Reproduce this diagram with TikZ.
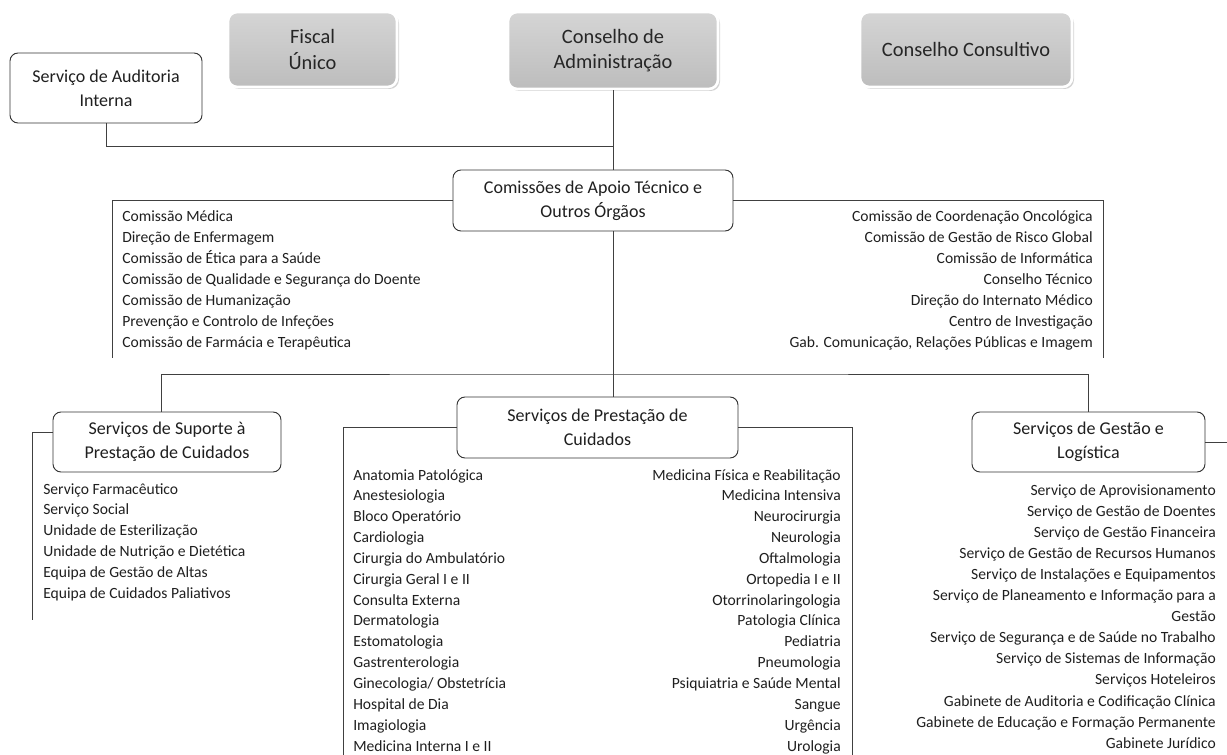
\documentclass[tikz,border=0pt]{standalone}
\usepackage{fontspec}
\setmainfont{Carlito}
\usetikzlibrary{shadows}

\tikzset{
  board/.style={rounded corners=7pt, draw=white, line width=2pt,
    top color=gray!33, bottom color=gray!52,
    drop shadow={opacity=0.35, shadow xshift=1.5pt, shadow yshift=-1.5pt},
    font=\fontsize{15.3}{19}\selectfont, text=black!85, align=center},
  unit/.style={rounded corners=6pt, draw=black!80, line width=0.7pt, fill=white,
    font=\fontsize{13.5}{18}\selectfont, text=black!88, align=center},
  item/.style={font=\fontsize{11.7}{14}\selectfont, inner sep=0pt, text=black!88},
  link/.style={draw=black!75, line width=0.75pt},
}

\begin{document}
\begin{tikzpicture}[x=0.75pt, y=-0.75pt]
    \useasboundingbox (0,0) rectangle (1227,755);

    % top level
    \node[board, minimum width=126.75pt, minimum height=56.25pt] at (312.5,49.5)(fiscal){Fiscal\\Único};
    \node[board, minimum width=157.5pt, minimum height=57.75pt] at (613,50.5)(cadm){Conselho de\\Administração};
    \node[board, minimum width=159pt, minimum height=56.25pt] at (966,49.5)(ccons){Conselho Consultivo};
    \node[unit, minimum width=144pt, minimum height=52.5pt] at (106,88)(audit){Serviço de Auditoria\\Interna};

    % support bodies
    \node[unit, minimum width=210pt, minimum height=45.75pt] at (593,200.5)(apoio){Comissões de Apoio Técnico e\\Outros Órgãos};

    % services
    \node[unit, minimum width=171pt, minimum height=45pt] at (167,442)(suporte){Serviços de Suporte à\\Prestação de Cuidados};
    \node[unit, minimum width=210.75pt, minimum height=45.75pt] at (597.5,427.5)(prest){Serviços de Prestação de\\Cuidados};
    \node[unit, minimum width=174.75pt, minimum height=45pt] at (1088.5,442)(gestao){Serviços de Gestão e\\Logística};

    \coordinate (jtop) at (613,147);
    \coordinate (apoioL) at (112,358);
    \coordinate (apoioR) at (1103,358);
    \coordinate (bus) at (613,374);
    \coordinate (supL) at (32,620);
    \coordinate (prestL) at (343,755);
    \coordinate (prestR) at (852,755);
    \coordinate (gestaoR) at (1227,442);

    \draw[link] (audit.south) |- (jtop);
    \draw[link] (cadm.south) -- (cadm.south |- apoio.north);
    \draw[link] (apoio.west) -| (apoioL);
    \draw[link] (apoio.east) -| (apoioR);
    \draw[link] (cadm.south |- apoio.south) -- (cadm.south |- prest.north);
    \draw[link] ([xshift=-4.5pt]suporte.north) |- (bus) -| (gestao.north);
    \draw[link] ([yshift=7.5pt]suporte.west) -| (supL);
    \draw[link] (prest.west) -| (prestL);
    \draw[link] (prest.east) -| (prestR);
    \draw[link] (gestao.east) -- (gestaoR);

    % lists
    \foreach \t [count=\i] in {Comissão Médica, Direção de Enfermagem, Comissão de Ética para a Saúde,
        Comissão de Qualidade e Segurança do Doente, Comissão de Humanização,
        Prevenção e Controlo de Infeções, Comissão de Farmácia e Terapêutica}
        \node[item, anchor=base west] (apoioA\i) at (122,{222+20.9*(\i-1)}) {\t};
    \foreach \t [count=\i] in {Comissão de Coordenação Oncológica, Comissão de Gestão de Risco Global,
        Comissão de Informática, Conselho Técnico, Direção do Internato Médico,
        Centro de Investigação, {Gab. Comunicação, Relações Públicas e Imagem}}
        \node[item, anchor=base east] (apoioB\i) at (1093,{222+20.9*(\i-1)}) {\t};
    \foreach \t [count=\i] in {Serviço Farmacêutico, Serviço Social, Unidade de Esterilização,
        Unidade de Nutrição e Dietética, Equipa de Gestão de Altas, Equipa de Cuidados Paliativos}
        \node[item, anchor=base west] (suporte\i) at (43,{494+20.9*(\i-1)}) {\t};
    \foreach \t [count=\i] in {Anatomia Patológica, Anestesiologia, Bloco Operatório, Cardiologia,
        Cirurgia do Ambulatório, Cirurgia Geral I e II, Consulta Externa, Dermatologia,
        Estomatologia, Gastrenterologia, Ginecologia/ Obstetrícia, Hospital de Dia,
        Imagiologia, Medicina Interna I e II}
        \node[item, anchor=base west] (prestA\i) at (353,{480+20.85*(\i-1)}) {\t};
    \foreach \t [count=\i] in {Medicina Física e Reabilitação, Medicina Intensiva, Neurocirurgia,
        Neurologia, Oftalmologia, Ortopedia I e II, Otorrinolaringologia, Patologia Clínica,
        Pediatria, Pneumologia, Psiquiatria e Saúde Mental, Sangue, Urgência, Urologia}
        \node[item, anchor=base east] (prestB\i) at (841,{480+20.85*(\i-1)}) {\t};
    \foreach \t [count=\i] in {Serviço de Aprovisionamento, Serviço de Gestão de Doentes,
        Serviço de Gestão Financeira, Serviço de Gestão de Recursos Humanos,
        Serviço de Instalações e Equipamentos, Serviço de Planeamento e Informação para a,
        Gestão, Serviço de Segurança e de Saúde no Trabalho, Serviço de Sistemas de Informação,
        Serviços Hoteleiros, Gabinete de Auditoria e Codificação Clínica,
        Gabinete de Educação e Formação Permanente, Gabinete Jurídico}
        \node[item, anchor=base east] (gestao\i) at (1216,{495+21.1*(\i-1)}) {\t};
\end{tikzpicture}
\end{document}
